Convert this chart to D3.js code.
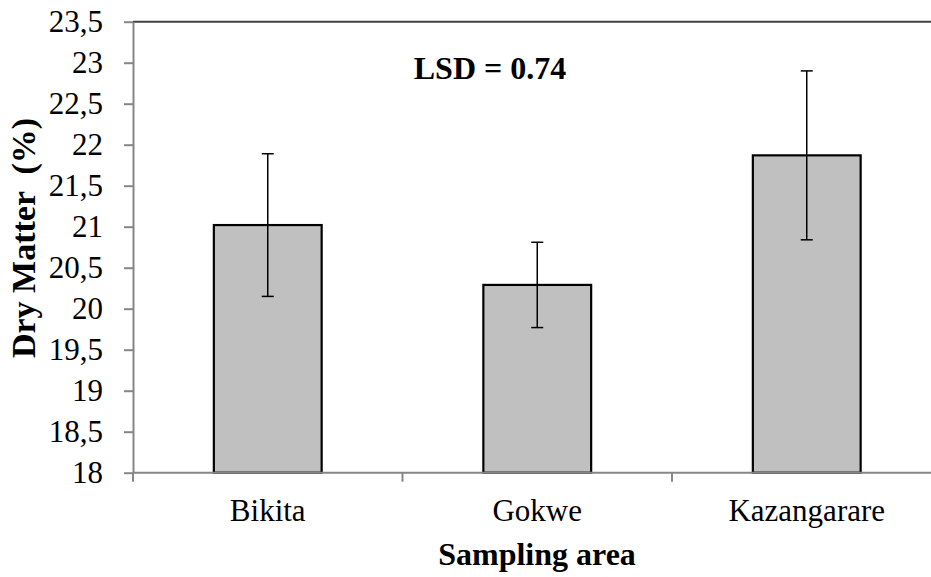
<!DOCTYPE html>
<meta charset="utf-8">
<style>body{margin:0;background:#fff}</style>
<svg width="931" height="577"></svg>
<script src="https://cdn.jsdelivr.net/npm/d3@7"></script>
<script>

var areas = ["Bikita", "Gokwe", "Kazangarare"];
var dryMatter = [21.02, 20.29, 21.87];
var errors = [0.87, 0.52, 1.03];
var yTicks = [18, 18.5, 19, 19.5, 20, 20.5, 21, 21.5, 22, 22.5, 23, 23.5];

var data = areas.map(function(a, i) { return {area: a, value: dryMatter[i], err: errors[i]}; });

var serif = "'Liberation Serif', monospace";

var svg = d3.select("svg"),
    plotLeft = 133, plotRight = 941.5, plotTop = 21.7, plotBottom = 472.7;

var x = d3.scaleBand()
    .domain(areas)
    .range([plotLeft, plotRight])
    .paddingInner(0.6)
    .paddingOuter(0.3);

var y = d3.scaleLinear()
    .domain([18, 23.5])
    .range([plotBottom, plotTop]);

var fmt = function(d) { return String(d).replace(".", ","); };

// top border of plot area
svg.append("line")
    .attr("x1", plotLeft).attr("x2", plotRight)
    .attr("y1", y(23.5)).attr("y2", y(23.5))
    .attr("stroke", "#404040").attr("stroke-width", 2);

// bars
svg.append("g")
  .selectAll("rect")
  .data(data)
  .enter().append("rect")
    .attr("x", function(d) { return x(d.area); })
    .attr("y", function(d) { return y(d.value); })
    .attr("width", x.bandwidth())
    .attr("height", function(d) { return y(18) - y(d.value); })
    .attr("fill", "#c0c0c0")
    .attr("stroke", "#000")
    .attr("stroke-width", 2.2);

// error bars
var eb = svg.append("g")
  .selectAll("g")
  .data(data)
  .enter().append("g")
    .attr("stroke", "#000")
    .attr("stroke-width", 1.5);

eb.append("line")
    .attr("x1", function(d) { return x(d.area) + x.bandwidth() / 2; })
    .attr("x2", function(d) { return x(d.area) + x.bandwidth() / 2; })
    .attr("y1", function(d) { return y(d.value + d.err); })
    .attr("y2", function(d) { return y(d.value - d.err); });

[1, -1].forEach(function(s) {
  eb.append("line")
      .attr("x1", function(d) { return x(d.area) + x.bandwidth() / 2 - 6; })
      .attr("x2", function(d) { return x(d.area) + x.bandwidth() / 2 + 6; })
      .attr("y1", function(d) { return y(d.value + s * d.err); })
      .attr("y2", function(d) { return y(d.value + s * d.err); });
});

// y axis
var yAxis = svg.append("g")
    .attr("transform", "translate(" + plotLeft + ",0)")
    .call(d3.axisLeft(y).tickValues(yTicks).tickFormat(fmt).tickSize(9).tickSizeOuter(0).tickPadding(21));

yAxis.selectAll("path, line").attr("stroke", "#868686").attr("stroke-width", 2);
yAxis.selectAll("text")
    .attr("fill", "#000")
    .style("font-family", serif)
    .style("font-size", "31px");

// x axis with ticks on band boundaries
var xAxis = svg.append("g")
    .attr("transform", "translate(0," + plotBottom + ")");

xAxis.append("line")
    .attr("x1", plotLeft).attr("x2", plotRight)
    .attr("stroke", "#868686").attr("stroke-width", 2);

xAxis.selectAll(".bt")
  .data(areas)
  .enter().append("line")
    .attr("class", "bt")
    .attr("x1", function(d) { return x(d) - x.step() * 0.3; })
    .attr("x2", function(d) { return x(d) - x.step() * 0.3; })
    .attr("y1", 0).attr("y2", 9)
    .attr("stroke", "#868686").attr("stroke-width", 2);

xAxis.selectAll("text")
  .data(areas)
  .enter().append("text")
    .attr("x", function(d) { return x(d) + x.bandwidth() / 2; })
    .attr("y", 48)
    .attr("text-anchor", "middle")
    .style("font-family", serif)
    .style("font-size", "31px")
    .text(function(d) { return d; });

// titles
svg.append("text")
    .attr("x", 537)
    .attr("y", 565)
    .attr("text-anchor", "middle")
    .style("font-family", serif)
    .style("font-size", "32px")
    .style("font-weight", "bold")
    .text("Sampling area");

svg.append("text")
    .attr("transform", "translate(35,238)rotate(-90)")
    .attr("text-anchor", "middle")
    .style("font-family", serif)
    .style("font-size", "34px")
    .style("font-weight", "bold")
    .style("white-space", "pre")
    .text("Dry Matter  (%)");

svg.append("text")
    .attr("x", 490)
    .attr("y", 79)
    .attr("text-anchor", "middle")
    .style("font-family", serif)
    .style("font-size", "32px")
    .style("font-weight", "bold")
    .text("LSD = 0.74");

</script>
